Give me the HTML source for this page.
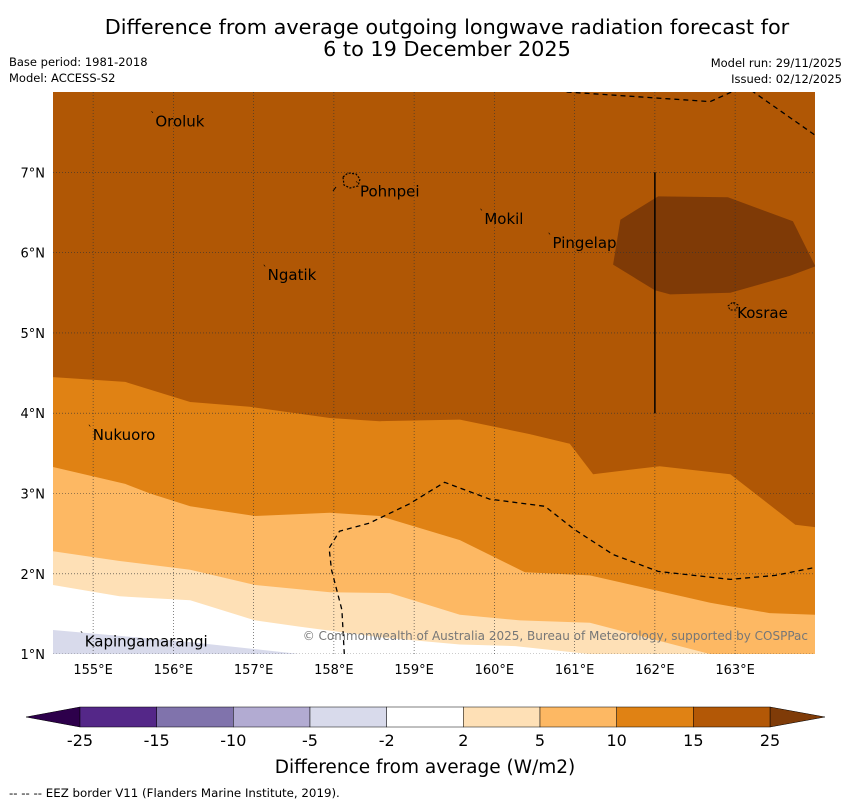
<!DOCTYPE html>
<html><head><meta charset="utf-8"><style>
body{margin:0;background:#fff;width:850px;height:804px;overflow:hidden;font-family:"DejaVu Sans","Liberation Sans",sans-serif}
</style></head><body>
<svg id="c" width="850" height="804" xmlns="http://www.w3.org/2000/svg" font-family="DejaVu Sans, Liberation Sans, sans-serif">
<text x="447" y="34" font-size="20.8" text-anchor="middle">Difference from average outgoing longwave radiation forecast for</text>
<text x="447" y="56" font-size="20.8" text-anchor="middle">6 to 19 December 2025</text>
<text x="9" y="66" font-size="11.5">Base period: 1981-2018</text>
<text x="9" y="82" font-size="11.5">Model: ACCESS-S2</text>
<text x="842" y="67" font-size="11.5" text-anchor="end">Model run: 29/11/2025</text>
<text x="842" y="83" font-size="11.5" text-anchor="end">Issued: 02/12/2025</text>
<defs><clipPath id="mc"><rect x="53" y="92" width="762" height="562"/></clipPath></defs>
<g id="map" clip-path="url(#mc)"></g>
<g id="cb"></g>
<text x="425" y="773" font-size="18.5" text-anchor="middle">Difference from average (W/m2)</text>
<text x="9" y="797" font-size="11.8">--  --  -- EEZ border V11 (Flanders Marine Institute, 2019).</text>
</svg>
<script>
const lonTicks=[155,156,157,158,159,160,161,162,163];
const latTicks=[1,2,3,4,5,6,7];
const b15=[[154.5,4.45],[155.4,4.39],[156.21,4.14],[156.95,4.08],[157.95,3.94],[158.57,3.9],[159.57,3.92],[160.44,3.74],[160.94,3.62],[161.23,3.24],[162.06,3.34],[162.94,3.24],[163.75,2.61],[164,2.58]];
const b10=[[154.5,3.33],[155.4,3.12],[155.71,3.0],[156.21,2.84],[157.02,2.72],[157.95,2.76],[158.57,2.72],[159.57,2.42],[160.38,2.02],[161.19,1.98],[162.69,1.64],[163.43,1.51],[164,1.49]];
const b5=[[154.5,2.28],[155.33,2.16],[156.21,2.05],[157.02,1.86],[157.95,1.77],[158.7,1.76],[159.57,1.49],[160.32,1.42],[161.19,1.39],[162.69,1.0],[164,1.0]];
const b2=[[154.5,1.86],[155.33,1.72],[156.21,1.67],[157.02,1.42],[157.58,1.34],[158.57,1.21],[159.57,1.12],[160.26,1.1],[161.19,1.0],[164,1.0]];
const bm2=[[154.5,1.3],[156.21,1.15],[157.58,1.0],[164,1.0]];
const blob=[[161.48,5.85],[161.57,6.41],[162.04,6.7],[162.91,6.69],[163.72,6.39],[164,5.83],[163.68,5.71],[162.94,5.5],[162.19,5.48],[162,5.53]];
const eez1=[[160.9,8.0],[162.69,7.88],[163.0,8.02]];
const eez2=[[163.2,8.02],[164,7.46]];
const eez3=[[158.13,1.0],[158.1,1.55],[157.97,2.05],[157.94,2.32],[158.07,2.53],[158.44,2.63],[158.94,2.87],[159.38,3.14],[159.94,2.93],[160.63,2.84],[161.0,2.55],[161.48,2.24],[162.04,2.03],[162.94,1.93],[163.5,1.98],[164,2.08]];
const islands=[["Oroluk",155.75,7.63],["Pohnpei",158.3,6.76],["Mokil",159.85,6.42],["Pingelap",160.7,6.12],["Ngatik",157.15,5.72],["Kosrae",163.0,5.25],["Nukuoro",154.97,3.73],["Kapingamarangi",154.87,1.16]];
const cbColors=["#542788","#8073ac","#b2abd2","#d8daeb","#ffffff","#fee0b6","#fdb863","#e08214","#b35806"];
const cbLabels=["-25","-15","-10","-5","-2","2","5","10","15","25"];
const NS="http://www.w3.org/2000/svg";
const X=lon=>53+(lon-154.5)*80.25, Y=lat=>92+(8-lat)*80.3;
function mk(p,t,a){const e=document.createElementNS(NS,t);for(const k in a)e.setAttribute(k,a[k]);p.appendChild(e);return e;}
const map=document.getElementById('map');
function pts(arr){return arr.map(p=>X(p[0]).toFixed(1)+','+Y(p[1]).toFixed(1)).join(' ');}
function below(arr){return pts(arr)+' '+X(164)+','+Y(1)+' '+X(154.5)+','+Y(1);}
let r=mk(map,'rect',{x:53,y:92,width:762,height:562,fill:'#b05705'});

[[b15,'#e08214','fill-10-15'],[b10,'#fdb863','fill-5-10'],[b5,'#fee0b6','fill-2-5'],[b2,'#ffffff','fill-neutral'],[bm2,'#d8daeb','fill-minus2-minus5']].forEach(d=>{
 const e=mk(map,'polygon',{points:below(d[0]),fill:d[1]});
 
 
});
let bl=mk(map,'polygon',{points:pts(blob),fill:'#7f3a06'});

lonTicks.forEach(l=>{const e=mk(map,'line',{x1:X(l),x2:X(l),y1:92,y2:654,stroke:'#333','stroke-width':0.6,'stroke-dasharray':'1,2'});
 });
latTicks.forEach(l=>{const e=mk(map,'line',{x1:53,x2:815,y1:Y(l),y2:Y(l),stroke:'#333','stroke-width':0.6,'stroke-dasharray':'1,2'});
 });
[eez1,eez2,eez3].forEach(a=>{const e=mk(map,'polyline',{points:pts(a),fill:'none',stroke:'#000','stroke-width':1.3,'stroke-dasharray':'5,4'});
 });
let vl=mk(map,'line',{x1:X(162),x2:X(162),y1:Y(7),y2:Y(4),stroke:'#000','stroke-width':1.5});

let po=mk(map,'path',{d:'M343,177 L348,173 L356,174 L360,179 L358,186 L350,188 L344,185 Z',fill:'none',stroke:'#000','stroke-width':1.2,'stroke-dasharray':'2,1.5'});

let ko=mk(map,'path',{d:'M728,306 L733,302 L738,305 L736,310 L730,310 Z',fill:'none',stroke:'#000','stroke-width':1,'stroke-dasharray':'2,1.5'});

let pl=mk(map,'line',{x1:333,y1:191,x2:336,y2:187,stroke:'#000','stroke-width':1});

islands.forEach(s=>{const e=mk(map,'text',{x:X(s[1])+2,y:Y(s[2])+5,'font-size':15,fill:'#000'});e.textContent=s[0];
 
 const m=mk(map,'text',{x:X(s[1])-3,y:Y(s[2])-3,'font-size':9});m.textContent='`';
 });
let cp=mk(map,'text',{x:808,y:640,'font-size':12,fill:'#777','text-anchor':'end'});cp.textContent='© Commonwealth of Australia 2025, Bureau of Meteorology, supported by COSPPac';

const svg=document.getElementById('c');
lonTicks.forEach(l=>{const e=mk(svg,'text',{x:X(l),y:674,'font-size':13,'text-anchor':'middle'});e.textContent=l+'°E';
 });
latTicks.forEach(l=>{const e=mk(svg,'text',{x:45,y:Y(l)+5,'font-size':13,'text-anchor':'end'});e.textContent=l+'°N';
 });
const cb=document.getElementById('cb');
const w=(770-80)/cbColors.length;
let tl=mk(cb,'polygon',{points:'26,717 80,707 80,727',fill:'#2d004b',stroke:'#000','stroke-width':0.5});

let tr=mk(cb,'polygon',{points:'825,717 770,707 770,727',fill:'#7f3b08',stroke:'#000','stroke-width':0.5});

cbColors.forEach((c,i)=>{const e=mk(cb,'rect',{x:80+i*w,y:707,width:w,height:20,fill:c,stroke:'#000','stroke-width':0.5});
 });
cbLabels.forEach((t,i)=>{const e=mk(cb,'text',{x:80+i*w,y:746,'font-size':16,'text-anchor':'middle'});e.textContent=t;
 });
</script>
</body></html>
